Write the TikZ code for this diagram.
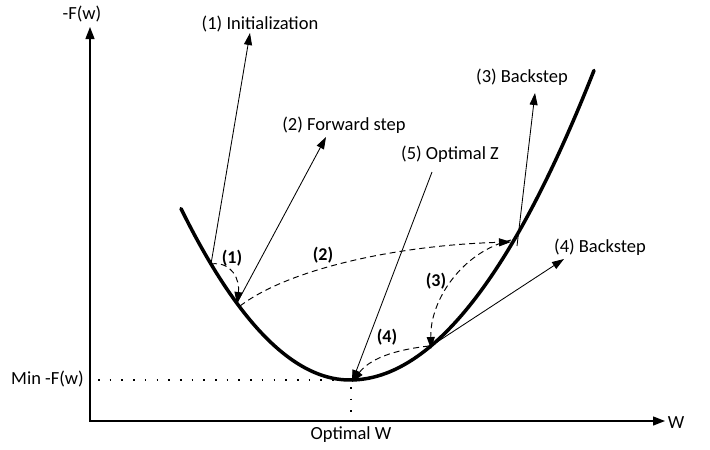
\documentclass[tikz,border=0pt]{standalone}
\usepackage{fontspec}
\setmainfont{Carlito}
\usetikzlibrary{arrows.meta}
\begin{document}
\begin{tikzpicture}[x=1pt,y=-1pt,
  axis/.style={line width=1.3pt,-{Triangle[length=12pt,width=9pt]}},
  curvel/.style={line width=3.5pt,line cap=round},
  thinarrow/.style={line width=0.85pt,-{Triangle[length=12pt,width=8pt]}},
  dasharrow/.style={line width=0.95pt,dash pattern=on 6pt off 4pt,-{Triangle[length=12pt,width=8pt]}},
  dotline/.style={line width=1.6pt,dash pattern=on 1.6pt off 10.1pt},
  lbl/.style={font=\fontsize{18.5}{22}\selectfont,inner sep=0pt},
  blbl/.style={font=\fontsize{18}{22}\selectfont\bfseries,inner sep=0pt}]
\useasboundingbox (0,0) rectangle (710,450);
% axes
\coordinate (O) at (90,421);
\coordinate (ytop) at (90,27);
\coordinate (xend) at (665,421);
\draw[axis] (O) -- (ytop);
\draw[axis] ([xshift=-0.65pt]O) -- (xend);
\node[lbl] (ylab) at (82,14) {-F(w)};
\node[lbl] (xlab) at (676,423) {W};
% curve
\draw[curvel] plot[domain=181:594,samples=120] (\x,{380-(\x<350 ? 0.6 : 0.52)*((\x-350)/10)^2});
% points on curve
\coordinate (P1) at (211,264);
\coordinate (P2) at (237,303);
\coordinate (P3) at (513,242);
\coordinate (P4) at (431,346);
\coordinate (Pm) at (351,379);
% dotted guides
\coordinate (minL) at (98,380);
\coordinate (minR) at (340,380);
\coordinate (optT) at (351,387);
\coordinate (optB) at (351,418);
\draw[dotline] (minL) -- (minR);
\draw[dotline] (optT) -- (optB);
\node[lbl,anchor=east] (minlab) at (84,379) {Min -F(w)};
\node[lbl] (optw) at (351,435) {Optimal W};
% labels
\node[lbl] (L1) at (260,24) {(1) Initialization};
\node[lbl] (L2) at (344,125) {(2) Forward step};
\node[lbl] (L3) at (522,77) {(3) Backstep};
\node[lbl] (L4) at (600,247) {(4) Backstep};
\node[lbl] (L5) at (450,154) {(5) Optimal Z};
% arrow tips near labels
\coordinate (T1) at (250,33);
\coordinate (T2) at (326,137);
\coordinate (T3) at (535,93);
\coordinate (T4) at (564,259);
\coordinate (S5) at (432,172);
\draw[thinarrow] (P1) -- (T1);
\draw[thinarrow] (P2) -- (T2);
\draw[thinarrow] ([xshift=4pt,yshift=-4pt]P3) -- (T3);
\draw[thinarrow] (P4) -- (T4);
\draw[thinarrow] (S5) -- ([xshift=1pt,yshift=-3pt]Pm);
% dashed steps
\draw[dasharrow] (P1) .. controls (232,261) and (240,280) .. ([yshift=-1pt]P2);
\draw[dasharrow] ([xshift=3pt,yshift=-3pt]P2) .. controls (290,268) and (400,245) .. ([xshift=-2pt]P3);
\draw[dasharrow] ([xshift=-2pt,yshift=2pt]P3) .. controls (462,252) and (430,300) .. ([yshift=-3pt]P4);
\draw[dasharrow] ([xshift=-2pt]P4) .. controls (402,349) and (372,356) .. ([xshift=1pt,yshift=-3pt]Pm);
\node[blbl] (B1) at (232,258) {(1)};
\node[blbl] (B2) at (323,255) {(2)};
\node[blbl] (B3) at (436,281) {(3)};
\node[blbl] (B4) at (387,337) {(4)};
\end{tikzpicture}
\end{document}
